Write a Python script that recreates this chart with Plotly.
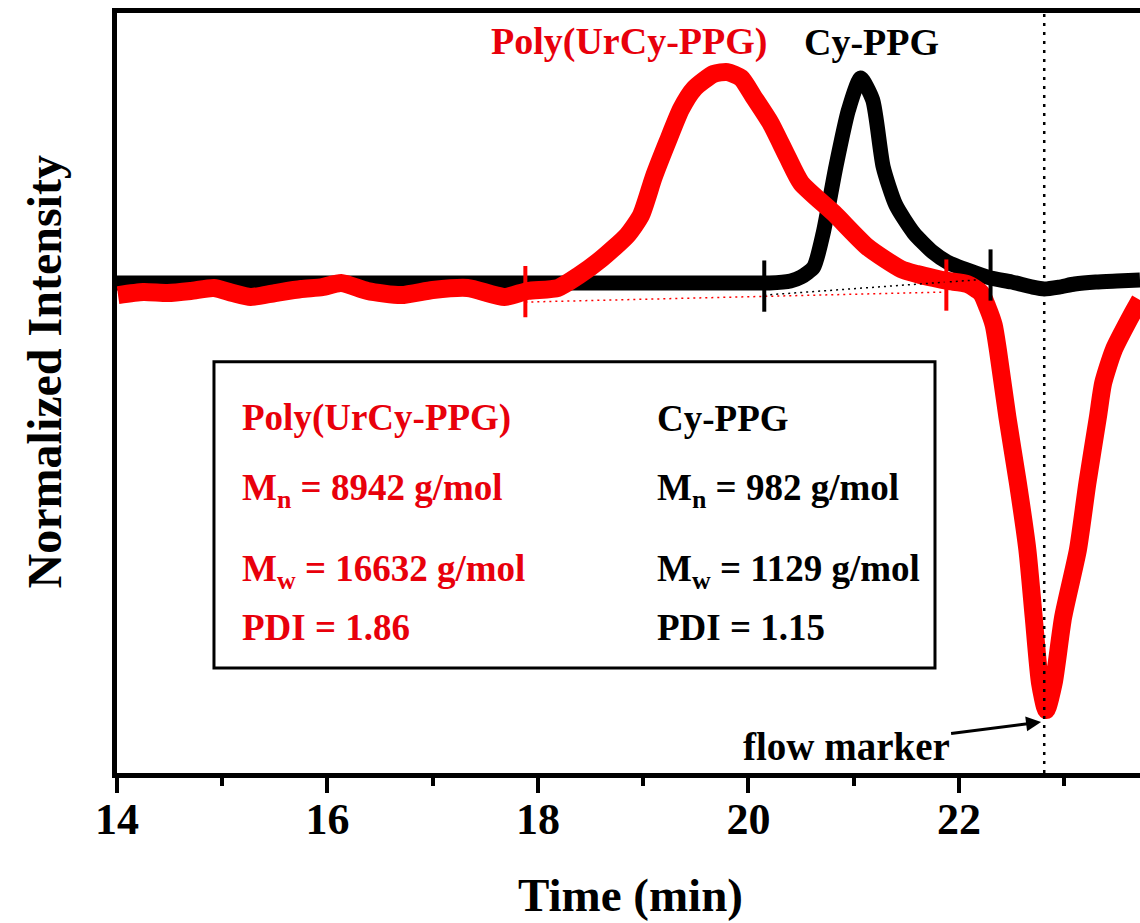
import plotly.graph_objects as go

# ---------------- data ----------------
time_cy = [14.0, 15.0, 16.0, 17.0, 18.0, 19.0, 20.0, 20.2, 20.4, 20.5, 20.62, 20.71, 20.83,
           20.95, 21.065, 21.18, 21.28, 21.4, 21.57, 21.75, 21.89, 22.1, 22.3, 22.5, 22.7,
           22.81, 22.95, 23.1, 23.3, 23.5, 23.72]
int_cy = [0.0, 0.0, 0.0, 0.0, 0.0, 0.0, 0.0, 0.0, 0.010, 0.029, 0.078, 0.244, 0.566,
          0.844, 1.0, 0.893, 0.566, 0.380, 0.244, 0.151, 0.102, 0.059, 0.024, 0.005, -0.020,
          -0.029, -0.020, -0.005, 0.005, 0.010, 0.015]

time_poly = [14.01, 14.25, 14.48, 14.7, 14.92, 15.1, 15.27, 15.5, 15.75, 15.95, 16.13, 16.38,
             16.7, 17.0, 17.33, 17.68, 17.9, 18.19, 18.38, 18.6, 18.85, 18.98, 19.1, 19.23,
             19.36, 19.48, 19.67, 19.8, 19.93, 20.05, 20.21, 20.37, 20.5, 20.81, 21.13, 21.45,
             21.6, 21.76, 21.89, 22.08, 22.21, 22.27, 22.33, 22.37, 22.46, 22.56, 22.65, 22.71,
             22.77, 22.83, 22.90, 22.99, 23.13, 23.22, 23.32, 23.37, 23.47, 23.63, 23.72]
int_poly = [-0.059, -0.044, -0.049, -0.039, -0.024, -0.049, -0.068, -0.049, -0.029, -0.020, 0.0,
            -0.039, -0.059, -0.034, -0.024, -0.068, -0.039, -0.024, 0.034, 0.117, 0.234, 0.332,
            0.517, 0.688, 0.849, 0.946, 1.02, 1.029, 1.0, 0.907, 0.780, 0.615, 0.488, 0.341,
            0.176, 0.068, 0.044, 0.024, 0.010, -0.005, -0.049, -0.117, -0.205, -0.327, -0.654,
            -0.976, -1.302, -1.629, -1.951, -2.083, -1.951, -1.629, -1.302, -0.976, -0.654,
            -0.488, -0.327, -0.166, -0.083]

# integration limits (time, centre intensity) and their baselines
poly_limits_t = [17.88, 21.88]
poly_limits_y = [-0.042, -0.010]
poly_base_y = [-0.093, -0.044]
cy_limits_t = [20.15, 22.30]
cy_limits_y = [-0.015, 0.039]
cy_base_y = [-0.059, 0.020]
limit_half = 0.125

flow_marker_time = 22.81

x_ticks = [14, 16, 18, 20, 22]
x_tick_labels = ["14", "16", "18", "20", "22"]
x_minor = [15, 17, 19, 21, 23]

poly_info = ["Poly(UrCy-PPG)", "M<sub>n</sub> = 8942 g/mol", "M<sub>w</sub> = 16632 g/mol", "PDI = 1.86"]
cy_info = ["Cy-PPG", "M<sub>n</sub> = 982 g/mol", "M<sub>w</sub> = 1129 g/mol", "PDI = 1.15"]

RED = "#FF0000"
TXT_RED = "#E8000B"
FONT = "Liberation Serif, Times New Roman, serif"

fig = go.Figure()

fig.add_trace(go.Scatter(x=time_cy, y=int_cy, mode="lines",
                         line=dict(color="black", width=15, shape="spline", smoothing=0.6),
                         showlegend=False, hoverinfo="skip"))
fig.add_trace(go.Scatter(x=time_poly, y=int_poly, mode="lines",
                         line=dict(color=RED, width=18, shape="spline", smoothing=0.6),
                         showlegend=False, hoverinfo="skip"))

# dotted baselines
fig.add_trace(go.Scatter(x=poly_limits_t, y=poly_base_y, mode="lines",
                         line=dict(color=RED, width=1.5, dash="2px,4px"), showlegend=False))
fig.add_trace(go.Scatter(x=cy_limits_t, y=cy_base_y, mode="lines",
                         line=dict(color="black", width=1.5, dash="2px,4px"), showlegend=False))

# limit ticks
def vsegs(ts, ys):
    xs, yy = [], []
    for t, c in zip(ts, ys):
        xs += [t, t, None]
        yy += [c - limit_half, c + limit_half, None]
    return xs, yy

xs, yy = vsegs(poly_limits_t, poly_limits_y)
fig.add_trace(go.Scatter(x=xs, y=yy, mode="lines", line=dict(color=RED, width=4), showlegend=False))
xs, yy = vsegs(cy_limits_t, cy_limits_y)
fig.add_trace(go.Scatter(x=xs, y=yy, mode="lines", line=dict(color="black", width=4), showlegend=False))

# flow marker dotted line
fig.add_shape(type="line", xref="x", yref="paper", x0=flow_marker_time, x1=flow_marker_time,
              y0=0, y1=1, line=dict(color="black", width=2.5, dash="3px,6px"))

# info box
fig.add_shape(type="rect", xref="paper", yref="paper", x0=0.0948, x1=0.7996, y0=0.138, y1=0.541,
              line=dict(color="black", width=3), fillcolor="rgba(0,0,0,0)")

row_y = [0.467, 0.372, 0.265, 0.192]
for txt, yv in zip(poly_info, row_y):
    fig.add_annotation(xref="paper", yref="paper", x=0.1202, y=yv, xanchor="left", yanchor="middle",
                       text=f"<b>{txt}</b>", showarrow=False,
                       font=dict(family=FONT, size=37, color=TXT_RED))
for txt, yv in zip(cy_info, row_y):
    fig.add_annotation(xref="paper", yref="paper", x=0.5259, y=yv, xanchor="left", yanchor="middle",
                       text=f"<b>{txt}</b>", showarrow=False,
                       font=dict(family=FONT, size=37, color="black"))

# peak labels
fig.add_annotation(xref="paper", yref="paper", x=0.5005, y=0.963, xanchor="center", yanchor="middle",
                   text="<b>Poly(UrCy-PPG)</b>",
                   showarrow=False, font=dict(family=FONT, size=38, color=TXT_RED))
fig.add_annotation(xref="paper", yref="paper", x=0.738, y=0.962, xanchor="center", yanchor="middle",
                   text="<b>Cy-PPG</b>",
                   showarrow=False, font=dict(family=FONT, size=38, color="black"))

# flow marker label with arrow
fig.add_annotation(x=22.78, y=-2.141, xref="x", yref="y", ax=-195, ay=25,
                   text="<b>flow marker</b>", showarrow=True, arrowhead=2, arrowsize=1,
                   arrowwidth=3, arrowcolor="black",
                   font=dict(family=FONT, size=39, color="black"))

# axis titles
fig.add_annotation(xref="paper", yref="paper", x=0.5024, y=-0.161, xanchor="center", yanchor="middle",
                   text="<b>Time (min)</b>",
                   showarrow=False, font=dict(family=FONT, size=47, color="black"))
fig.add_annotation(xref="paper", yref="paper", x=-0.071, y=0.5276, xanchor="center", yanchor="middle",
                   text="<b>Normalized Intensity</b>",
                   textangle=-90, showarrow=False, font=dict(family=FONT, size=48, color="black"))

fig.update_xaxes(range=[14, 23.72], showline=True, linewidth=5, linecolor="black", mirror=True,
                 ticks="outside", ticklen=15, tickwidth=4, tickcolor="black",
                 tickvals=x_ticks, ticktext=x_tick_labels, ticklabelstandoff=-12,
                 tickfont=dict(family=FONT, size=44, color="black", weight="bold"),
                 minor=dict(tickvals=x_minor, ticks="outside", ticklen=8, tickwidth=4, tickcolor="black"),
                 showgrid=False, zeroline=False)
fig.update_yaxes(range=[-2.390, 1.317], showline=True, linewidth=5, linecolor="black", mirror=False,
                 ticks="", showticklabels=False, showgrid=False, zeroline=False)

fig.update_layout(width=1140, height=923, margin=dict(l=117, r=0, t=13, b=150),
                  plot_bgcolor="white", paper_bgcolor="white")

fig.write_html("out.html", config={"displayModeBar": False},
               post_script="document.body.style.margin='0px';document.body.style.overflow='hidden';")
